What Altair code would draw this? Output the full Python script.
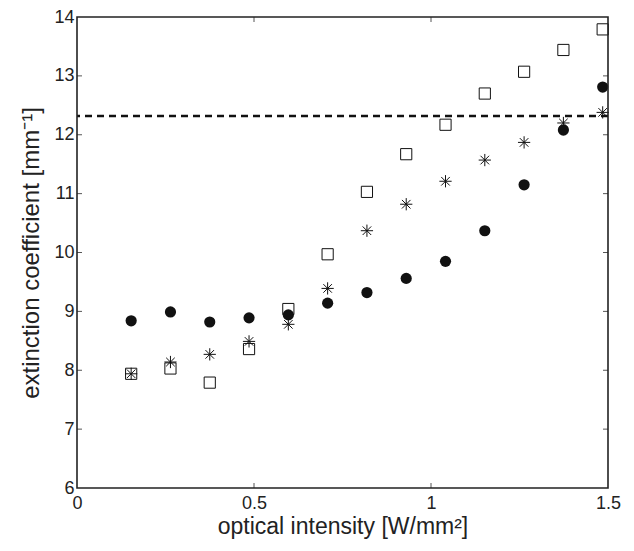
import altair as alt
import pandas as pd

x_vals = [0.153, 0.264, 0.375, 0.486, 0.597, 0.708, 0.819, 0.930, 1.041, 1.152, 1.263, 1.374, 1.485]
circles = [8.84, 8.99, 8.82, 8.89, 8.94, 9.14, 9.32, 9.56, 9.85, 10.37, 11.15, 12.08, 12.81]
squares = [7.94, 8.03, 7.79, 8.36, 9.04, 9.97, 11.03, 11.67, 12.17, 12.70, 13.07, 13.44, 13.79]
stars = [7.94, 8.14, 8.27, 8.49, 8.78, 9.39, 10.37, 10.82, 11.21, 11.57, 11.87, 12.20, 12.38]
threshold = 12.32
x_ticks = [0, 0.5, 1, 1.5]
y_ticks = [6, 7, 8, 9, 10, 11, 12, 13, 14]

W, H = 531, 471
FONT = "Liberation Sans"

df = pd.DataFrame({"x": x_vals, "circ": circles, "sq": squares, "st": stars})

xs = alt.Scale(domain=[0, 1.5], nice=False, zero=False)
ys = alt.Scale(domain=[6, 14], nice=False, zero=False)

xaxis = alt.Axis(values=x_ticks, labelExpr="format(datum.value, '~g')",
                 domain=False, ticks=False, grid=False, labelFontSize=18, labelFont=FONT,
                 labelColor="#222", labelPadding=6, labelFlush=False, title="optical intensity [W/mm²]",
                 titleFont=FONT, titleFontSize=23, titleFontWeight="normal", titleColor="#222",
                 titlePadding=3)
yaxis = alt.Axis(values=y_ticks, format="d", domain=False, ticks=False, grid=False, labelFontSize=18,
                 labelFont=FONT, labelColor="#222", labelPadding=3, labelFlush=False,
                 title="extinction coefficient [mm⁻¹]", titleFont=FONT, titleFontSize=24,
                 titleFontWeight="normal", titleColor="#222", titlePadding=10)

base = alt.Chart(df)

circ = base.mark_point(shape="circle", filled=True, color="#111", size=125, opacity=1).encode(
    x=alt.X("x:Q", scale=xs, axis=xaxis), y=alt.Y("circ:Q", scale=ys, axis=yaxis))
sq = base.mark_point(shape="square", filled=False, color="#111", size=125, strokeWidth=1, opacity=1).encode(
    x=alt.X("x:Q", scale=xs), y=alt.Y("sq:Q", scale=ys))
asterisk = "M-1,0L1,0M0,-1L0,1M-0.7,-0.7L0.7,0.7M-0.7,0.7L0.7,-0.7"
st = base.mark_point(shape=asterisk, filled=False, color="#111", size=150, strokeWidth=1, opacity=1).encode(
    x=alt.X("x:Q", scale=xs), y=alt.Y("st:Q", scale=ys))

thr = alt.Chart(pd.DataFrame({"y": [threshold]})).mark_rule(
    color="#111", strokeWidth=2.5, strokeDash=[7, 5]).encode(y=alt.Y("y:Q", scale=ys))

xt = alt.Chart(pd.DataFrame({"x": x_ticks[1:-1]}))
yt = alt.Chart(pd.DataFrame({"y": y_ticks[1:-1]}))
tick_col = "#555"
xb = xt.mark_rule(color=tick_col, strokeWidth=1).encode(x=alt.X("x:Q", scale=xs), y=alt.value(H), y2=alt.value(H - 5))
xtp = xt.mark_rule(color=tick_col, strokeWidth=1).encode(x=alt.X("x:Q", scale=xs), y=alt.value(0), y2=alt.value(5))
yl = yt.mark_rule(color=tick_col, strokeWidth=1).encode(y=alt.Y("y:Q", scale=ys), x=alt.value(0), x2=alt.value(5))
yr = yt.mark_rule(color=tick_col, strokeWidth=1).encode(y=alt.Y("y:Q", scale=ys), x=alt.value(W), x2=alt.value(W - 5))

frame = alt.Chart(pd.DataFrame({"a": [0]})).mark_rect(
    fill=None, fillOpacity=0, stroke="#222", strokeWidth=1.6).encode(
    x=alt.value(0), x2=alt.value(W), y=alt.value(0), y2=alt.value(H))

chart = alt.layer(xb, xtp, yl, yr, thr, sq, st, circ, frame).properties(
    width=W, height=H,
    autosize=alt.AutoSizeParams(type="none"),
    padding={"left": 69, "top": 9, "right": 16, "bottom": 55},
).configure(background="white").configure_view(strokeWidth=0)

chart.save("out.html", embed_options={"renderer": "svg", "actions": False})
